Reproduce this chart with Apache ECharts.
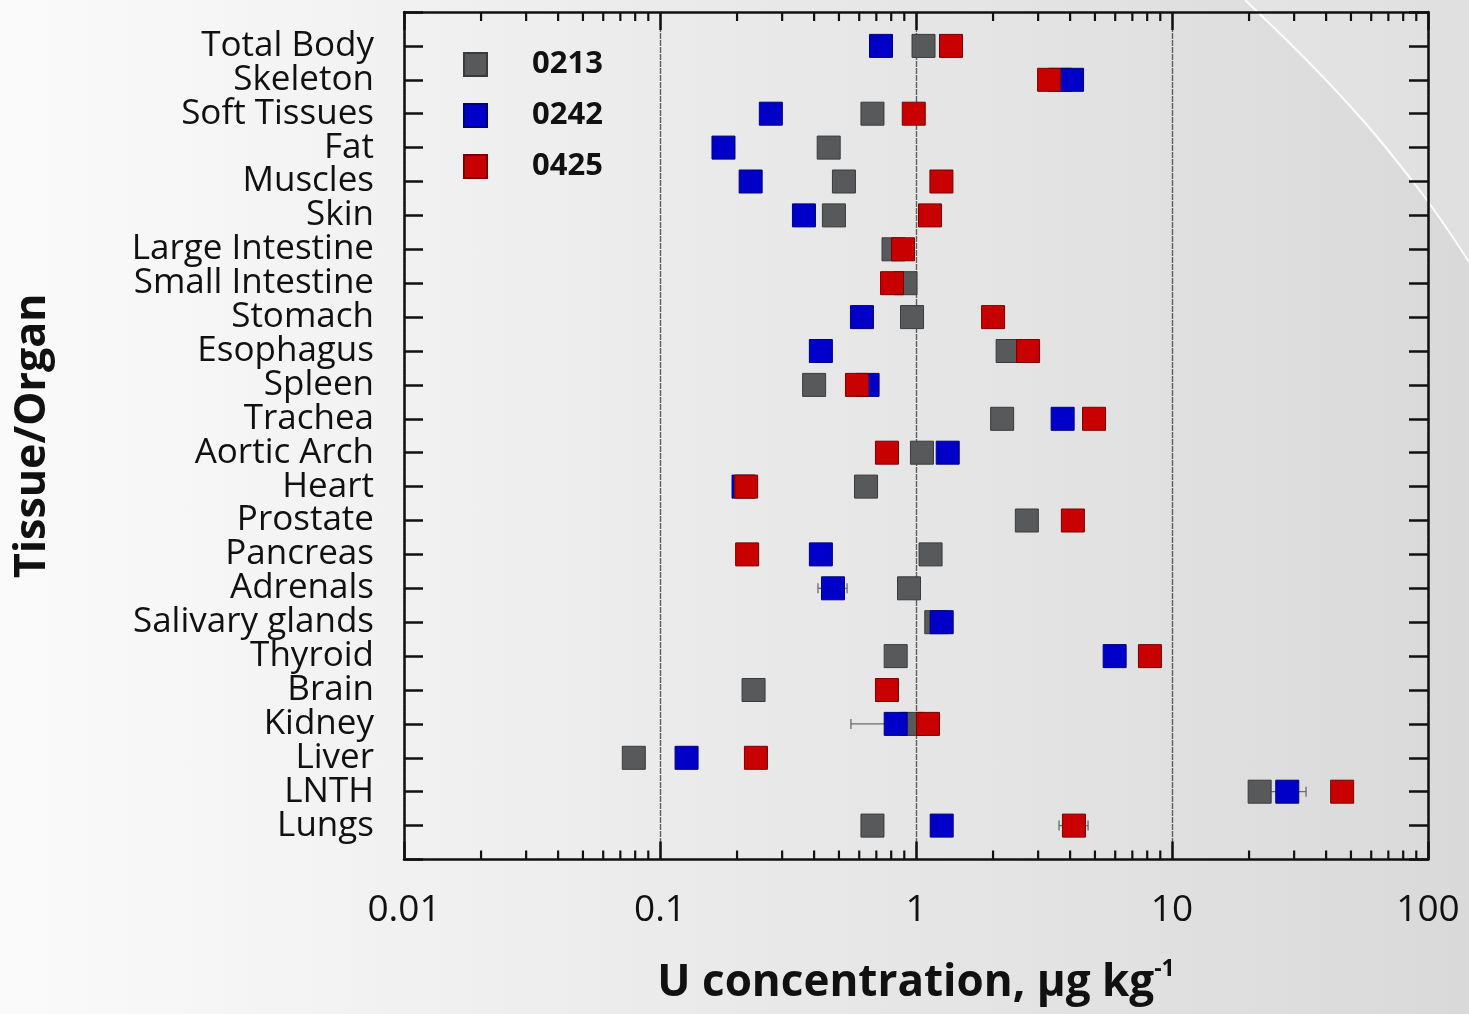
<!DOCTYPE html>
<html>
<head>
<meta charset="utf-8">
<script src="https://cdn.jsdelivr.net/npm/echarts@6/dist/echarts.min.js"></script>
<style>
html,body{margin:0;padding:0;width:1469px;height:1014px;overflow:hidden;
background:linear-gradient(to right,#fafafa 0px,#f8f8f8 107px,#f1f1f1 404px,#eaeaea 700px,#e4e4e4 1000px,#dddddd 1300px,#d9d9d9 1469px);}
#chart{width:1469px;height:1014px;}
</style>
</head>
<body>
<div id="chart"></div>
<script>
const categories = ['Total Body','Skeleton','Soft Tissues','Fat','Muscles','Skin','Large Intestine','Small Intestine','Stomach','Esophagus','Spleen','Trachea','Aortic Arch','Heart','Prostate','Pancreas','Adrenals','Salivary glands','Thyroid','Brain','Kidney','Liver','LNTH','Lungs'];
const seriesNames = ['0213','0242','0425'];
const values0213 = [1.07, 3.65, 0.676, 0.456, 0.523, 0.478, 0.817, 0.910, 0.965, 2.28, 0.400, 2.17, 1.055, 0.638, 2.71, 1.14, 0.939, 1.20, 0.833, 0.232, 0.965, 0.079, 22.0, 0.676];
const values0242 = [0.730, 4.07, 0.271, 0.177, 0.226, 0.365, null, null, 0.615, 0.425, 0.647, 3.74, 1.33, 0.212, null, 0.425, 0.474, 1.26, 5.97, null, 0.833, 0.127, 28.2, 1.26];
const values0425 = [1.37, 3.31, 0.98, null, 1.257, 1.134, 0.890, 0.806, 2.0, 2.74, 0.588, 4.96, 0.770, 0.217, 4.10, 0.219, null, null, 8.20, 0.770, 1.114, 0.237, 46.2, 4.14];
const errorCategories = ['Adrenals','Kidney','LNTH','Lungs'];
const errorLow = [0.414, 0.557, 23.0, 3.62];
const errorHigh = [0.538, 1.11, 33.4, 4.70];
const xTickLabels = ['0.01','0.1','1','10','100'];

const colors = ['#58595b','#0000c8','#c80000'];
const borders = ['#3a3a3a','#00007a','#7a0000'];
const yData = [''].concat(categories).concat(['']);
const FONT = 'Open Sans';

const minorTicks = [];
[0.01,0.1,1,10].forEach(d => { for (let k = 2; k <= 9; k++) minorTicks.push([+(d*k).toPrecision(3), 0]); });

function pts(arr){ const out=[]; arr.forEach((v,i)=>{ if(v!=null) out.push([v, categories[i]]); }); return out; }

const errData = errorCategories.map((c,i)=>[errorLow[i], errorHigh[i], categories.indexOf(c)+1]);

const axisLineStyle = {color:'#111', width:2.5};

const chart = echarts.init(document.getElementById('chart'), null, {renderer:'canvas'});
chart.setOption({
  backgroundColor:'transparent',
  animation:false,
  graphic:[
    {type:'polygon', silent:true, z:-10, shape:{points:[[1245,0],[1469,0],[1469,262],[1417,187],[1340,95]], smooth:0},
      style:{fill:'rgba(255,255,255,0.18)'}},
    {type:'polyline', silent:true, z:-9, shape:{points:[[1245,0],[1340,95],[1417,187],[1469,262]], smooth:0.4},
      style:{stroke:'rgba(255,255,255,0.9)', lineWidth:2, fill:null}}
  ],
  grid:{left:404, top:12, width:1024, height:850, containLabel:false},
  legend:{
    data:seriesNames, orient:'vertical', left:458, top:44,
    itemWidth:23, itemHeight:23, itemGap:20, icon:'rect',
    textStyle:{fontFamily:FONT, fontWeight:'bold', fontSize:31, color:'#111', padding:[0,0,0,40]}
  },
  xAxis:[{
    type:'log', logBase:10, min:0.01, max:100, position:'bottom',
    axisLine:{show:true, lineStyle:axisLineStyle},
    axisTick:{show:true, inside:true, length:18, lineStyle:{color:'#111', width:2.5}},
    axisLabel:{margin:32, fontFamily:FONT, fontSize:37, color:'#111',
      formatter:(v)=>{ const i=Math.round(Math.log10(v))+2; return xTickLabels[i]!==undefined?xTickLabels[i]:''; }},
    splitLine:{show:true, lineStyle:{color:'#5e5e5e', width:1.4, type:[6,1]}},
    name:'{a|U concentration, μg kg}{b|-1}', nameLocation:'middle', nameGap:98,
    nameTextStyle:{rich:{
      a:{fontFamily:FONT, fontWeight:'bold', fontSize:44, color:'#111', lineHeight:52},
      b:{fontFamily:FONT, fontWeight:'bold', fontSize:23, color:'#111', lineHeight:52, padding:[0,0,28,0]}
    }}
  },{
    type:'log', logBase:10, min:0.01, max:100, position:'top',
    axisLine:{show:true, lineStyle:axisLineStyle},
    axisTick:{show:true, inside:true, length:18, lineStyle:{color:'#111', width:2.5}},
    axisLabel:{show:false}, splitLine:{show:false}
  }],
  yAxis:[{
    type:'category', data:yData, inverse:true, boundaryGap:false, position:'left',
    axisLine:{show:true, lineStyle:axisLineStyle},
    axisTick:{show:true, inside:true, length:19, lineStyle:{color:'#111', width:2.5}},
    axisLabel:{margin:30, fontFamily:FONT, fontSize:35, color:'#111', interval:0},
    splitLine:{show:false},
    name:'Tissue/Organ', nameLocation:'middle', nameRotate:90, nameGap:350,
    nameTextStyle:{fontFamily:FONT, fontWeight:'bold', fontSize:43, color:'#111'}
  },{
    type:'category', data:yData, inverse:true, boundaryGap:false, position:'right',
    axisLine:{show:true, lineStyle:axisLineStyle},
    axisTick:{show:true, inside:true, length:19, lineStyle:{color:'#111', width:2.5}},
    axisLabel:{show:false}, splitLine:{show:false}
  }],
  series:[
    {
      type:'custom', silent:true, xAxisIndex:0, yAxisIndex:0, z:3,
      data:minorTicks, encode:{x:0, y:1},
      renderItem:(params, api)=>{
        const x = api.coord([api.value(0), 0])[0];
        const cs = params.coordSys;
        const st = {stroke:'#111', lineWidth:2.2};
        return {type:'group', children:[
          {type:'line', shape:{x1:x, y1:cs.y+cs.height, x2:x, y2:cs.y+cs.height-9}, style:st},
          {type:'line', shape:{x1:x, y1:cs.y, x2:x, y2:cs.y+9}, style:st}
        ]};
      }
    },
    {
      type:'custom', silent:true, xAxisIndex:0, yAxisIndex:0, z:2,
      data:errData, encode:{x:[0,1], y:2},
      renderItem:(params, api)=>{
        const p1 = api.coord([api.value(0), api.value(2)]);
        const p2 = api.coord([api.value(1), api.value(2)]);
        const st = {stroke:'#6a6a6a', lineWidth:1.3};
        return {type:'group', children:[
          {type:'line', shape:{x1:p1[0], y1:p1[1], x2:p2[0], y2:p2[1]}, style:st},
          {type:'line', shape:{x1:p1[0], y1:p1[1]-5, x2:p1[0], y2:p1[1]+5}, style:st},
          {type:'line', shape:{x1:p2[0], y1:p2[1]-5, x2:p2[0], y2:p2[1]+5}, style:st}
        ]};
      }
    },
    {name:seriesNames[0], type:'scatter', symbol:'rect', symbolSize:23, z:5, data:pts(values0213),
      itemStyle:{color:colors[0], borderColor:borders[0], borderWidth:1, opacity:1}},
    {name:seriesNames[1], type:'scatter', symbol:'rect', symbolSize:23, z:5, data:pts(values0242),
      itemStyle:{color:colors[1], borderColor:borders[1], borderWidth:1, opacity:1}},
    {name:seriesNames[2], type:'scatter', symbol:'rect', symbolSize:23, z:5, data:pts(values0425),
      itemStyle:{color:colors[2], borderColor:borders[2], borderWidth:1, opacity:1}}
  ]
});
</script>
</body>
</html>
